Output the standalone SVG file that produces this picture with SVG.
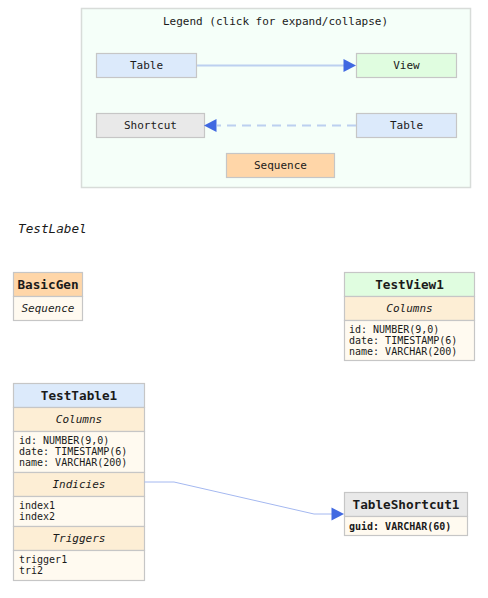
<svg xmlns="http://www.w3.org/2000/svg" width="488" height="598" viewBox="0 0 488 598">
<style>
text{font-family:"DejaVu Sans Mono","Liberation Mono",monospace;fill:#1a1a1a}
.box{stroke:#c6c6c6;stroke-width:1.2}
.lg{font-size:11px;text-anchor:middle;dominant-baseline:central}
.ttl{font-size:12.7px;font-weight:bold;text-anchor:middle;dominant-baseline:central}
.sec{font-size:11px;font-style:italic;text-anchor:middle;dominant-baseline:central}
.row{font-size:10px}
.tbl{fill:#dceafb}.view{fill:#e0fde0}.sc{fill:#e9e9e9}.seq{fill:#ffd6a8}
.sh{fill:#fdeed5}.bd{fill:#fffaf0}
.ah{fill:#4169e1}
</style>
<rect width="488" height="598" fill="#ffffff"/>
<g id="legend">
<rect x="81.5" y="8.5" width="389" height="179" fill="#f5fff9" stroke="#d8dcd9" stroke-width="1.5"/>
<text class="lg" x="275.5" y="21.5">Legend (click for expand/collapse)</text>
<g id="legend-table1"><rect class="box tbl" x="96.5" y="53.5" width="100" height="24"/><text class="lg" x="146.5" y="65.5">Table</text></g>
<g id="legend-view"><rect class="box view" x="356.5" y="53.5" width="100" height="24"/><text class="lg" x="406.5" y="65.5">View</text></g>
<g id="legend-shortcut"><rect class="box sc" x="96.5" y="113.5" width="108" height="24"/><text class="lg" x="150.5" y="125.5">Shortcut</text></g>
<g id="legend-table2"><rect class="box tbl" x="356.5" y="113.5" width="100" height="24"/><text class="lg" x="406.5" y="125.5">Table</text></g>
<g id="legend-sequence"><rect class="box seq" x="226.5" y="153.5" width="108" height="24"/><text class="lg" x="280.5" y="165.5">Sequence</text></g>
<g id="legend-connectors">
<line x1="197" y1="65.5" x2="344" y2="65.5" stroke="#bcd0f0" stroke-width="2"/>
<polygon class="ah" points="343.5,59 356,65.5 343.5,72"/>
<line x1="356" y1="125.5" x2="217" y2="125.5" stroke="#bcd0f0" stroke-width="2" stroke-dasharray="9,6"/>
<polygon class="ah" points="216.5,119 204,125.5 216.5,132"/>
</g>
</g>
<g id="testlabel"><text x="18" y="233" font-size="12.7" font-style="italic">TestLabel</text></g>
<g id="basicgen">
<rect class="box seq" x="13.5" y="272.5" width="69" height="24"/>
<rect class="box bd" x="13.5" y="296.5" width="69" height="24"/>
<text class="ttl" x="48" y="284.5">BasicGen</text>
<text class="sec" x="48" y="308.5" font-size="10">Sequence</text>
</g>
<g id="testview1">
<rect class="box view" x="344.5" y="272.5" width="130" height="24"/>
<rect class="box sh" x="344.5" y="296.5" width="130" height="24"/>
<rect class="box bd" x="344.5" y="320.5" width="130" height="40"/>
<text class="ttl" x="409.5" y="284.5">TestView1</text>
<text class="sec" x="409.5" y="308.5">Columns</text>
<text class="row" x="349" y="333">id: NUMBER(9,0)</text>
<text class="row" x="349" y="344">date: TIMESTAMP(6)</text>
<text class="row" x="349" y="355">name: VARCHAR(200)</text>
</g>
<g id="testtable1">
<rect class="box tbl" x="13.5" y="383.5" width="131" height="24"/>
<rect class="box sh" x="13.5" y="407.5" width="131" height="24"/>
<rect class="box bd" x="13.5" y="431.5" width="131" height="41"/>
<rect class="box sh" x="13.5" y="472.5" width="131" height="24"/>
<rect class="box bd" x="13.5" y="496.5" width="131" height="30"/>
<rect class="box sh" x="13.5" y="526.5" width="131" height="24"/>
<rect class="box bd" x="13.5" y="550.5" width="131" height="30"/>
<text class="ttl" x="79" y="395.5">TestTable1</text>
<text class="sec" x="79" y="419.5">Columns</text>
<text class="row" x="19" y="444">id: NUMBER(9,0)</text>
<text class="row" x="19" y="455">date: TIMESTAMP(6)</text>
<text class="row" x="19" y="466">name: VARCHAR(200)</text>
<text class="sec" x="79" y="484.5">Indicies</text>
<text class="row" x="19" y="509">index1</text>
<text class="row" x="19" y="520">index2</text>
<text class="sec" x="79" y="538.5">Triggers</text>
<text class="row" x="19" y="563">trigger1</text>
<text class="row" x="19" y="574">tri2</text>
</g>
<g id="tableshortcut1">
<rect class="box sc" x="344.5" y="492.5" width="123" height="24"/>
<rect class="box bd" x="344.5" y="516.5" width="123" height="19"/>
<text class="ttl" x="406" y="504.5">TableShortcut1</text>
<text class="row" x="349" y="529.5" font-weight="bold">guid: VARCHAR(60)</text>
</g>
<g id="connectors">
<path d="M144.5,482 L174,482 L314,514 L332,514" fill="none" stroke="#a4b8f0" stroke-width="1"/>
<polygon class="ah" points="331.5,507.5 344,514 331.5,520.5"/>
</g>
</svg>
